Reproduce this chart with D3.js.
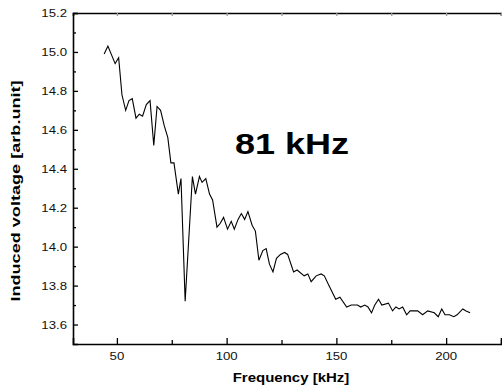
<!DOCTYPE html>
<html>
<head>
<meta charset="utf-8">
<script src="https://cdn.jsdelivr.net/npm/d3@7"></script>
<style>
  body { margin: 0; background: #fff; }
  text { font-family: "Liberation Sans", Arial, sans-serif; }
</style>
</head>
<body>
<svg id="canvas"></svg>
<script>
// data
const freq = [44.2, 45.9, 49.2, 50.8, 52.3, 54.0, 55.5, 57.0, 58.7, 60.2, 61.7, 63.4, 65.1, 66.8, 68.3, 69.9,
  71.6, 73.2, 74.6, 76.0, 78.0, 79.2, 81.1, 84.4, 85.8, 87.6, 88.8, 90.5, 92.2, 93.6, 95.6, 97.1, 98.6,
  100.4, 102.1, 103.5, 105.2, 106.7, 108.2, 109.7, 111.6, 113.1, 114.7, 116.5, 118.0, 119.5, 121.1, 122.7,
  124.5, 126.4, 127.8, 130.5, 132.1, 135.3, 137.0, 138.5, 140.8, 143.0, 144.5, 146.6, 149.7, 151.6, 154.7,
  156.8, 159.6, 161.1, 162.9, 164.4, 166.0, 167.5, 169.2, 170.7, 173.7, 175.6, 177.1, 178.6, 180.2, 182.0,
  183.6, 187.0, 189.3, 191.6, 194.6, 196.4, 198.0, 199.5, 201.5, 203.5, 205.0, 207.6, 209.1, 210.9]
const voltage = [14.99, 15.03, 14.94, 14.97, 14.78, 14.70, 14.75, 14.76, 14.66, 14.68, 14.67, 14.73, 14.75, 14.52, 14.72, 14.70,
  14.62, 14.56, 14.43, 14.43, 14.27, 14.35, 13.72, 14.36, 14.27, 14.36, 14.33, 14.35, 14.27, 14.24, 14.10, 14.12, 14.15,
  14.09, 14.13, 14.09, 14.14, 14.17, 14.14, 14.18, 14.11, 14.08, 13.93, 13.98, 13.99, 13.91, 13.87, 13.94,
  13.96, 13.97, 13.96, 13.87, 13.88, 13.85, 13.86, 13.82, 13.85, 13.86, 13.85, 13.80, 13.73, 13.74, 13.69,
  13.70, 13.70, 13.69, 13.70, 13.69, 13.66, 13.70, 13.73, 13.70, 13.71, 13.67, 13.69, 13.68, 13.69, 13.65,
  13.67, 13.67, 13.65, 13.67, 13.66, 13.64, 13.68, 13.65, 13.65, 13.64, 13.65, 13.68, 13.67, 13.66]
const xTicks = [50, 100, 150, 200]
const yTicks = [13.6, 13.8, 14.0, 14.2, 14.4, 14.6, 14.8, 15.0, 15.2]

const width = 502
const height = 388
const margin = { top: 13, right: 1, bottom: 44, left: 73 }
const sx = 1.2   // picture looks stretched sideways

let canvas = d3.select("#canvas")
  .attr('width', width)
  .attr('height', height)

let xScale = d3.scaleLinear().domain([30, 225]).range([margin.left, width - margin.right])
let yScale = d3.scaleLinear().domain([13.5, 15.2]).range([height - margin.bottom, margin.top])

// stretch = horizontal scale of the glyphs (along the text)
let addText = (g, x, y, str, size, anchor, bold, rot, stretch) => {
  g.append('text')
    .attr('transform', `translate(${x},${y}) rotate(${rot || 0}) scale(${stretch || sx},1)`)
    .attr('text-anchor', anchor)
    .attr('font-size', size)
    .attr('font-weight', bold ? 'bold' : 'normal')
    .text(str)
}

// axes, ticks pointing inward
let bottomAxis = canvas.append('g')
  .attr('transform', `translate(0, ${height - margin.bottom})`)
  .call(d3.axisBottom(xScale).tickValues(d3.range(50, 226, 25)).tickSize(-6).tickFormat(''))
bottomAxis.selectAll('.tick line').filter(d => d % 50 != 0).attr('y2', -4)

let topAxis = canvas.append('g')
  .attr('transform', `translate(0, ${margin.top})`)
  .call(d3.axisTop(xScale).tickValues(d3.range(50, 226, 25)).tickSize(-3).tickFormat(''))
topAxis.selectAll('.tick line').attr('stroke', '#999')

let leftAxis = canvas.append('g')
  .attr('transform', `translate(${margin.left}, 0)`)
  .call(d3.axisLeft(yScale).tickValues(d3.range(13.6, 15.21, 0.1)).tickSize(-5).tickFormat(''))
leftAxis.selectAll('.tick line').filter((d, i) => i % 2 == 1).attr('x2', 3)

canvas.selectAll('.domain').attr('stroke-width', 1.6)
canvas.selectAll('.tick line').attr('stroke-width', 1.3)

// tick labels
let labels = canvas.append('g').attr('fill', '#111')
xTicks.forEach(t => addText(labels, xScale(t), 360, t, 11, 'middle'))
yTicks.forEach(t => addText(labels, 67, yScale(t) + 4, t.toFixed(1), 11, 'end'))

// titles
addText(canvas, 291, 382, 'Frequency [kHz]', 12.5, 'middle', true)
addText(canvas, 20, 191, 'Induced voltage [arb.unit]', 12.5, 'middle', true, -90, 1.45)
addText(canvas, 292, 154, '81 kHz', 30, 'middle', true)

// the curve
let line = d3.line()
  .x(d => xScale(d[0]))
  .y(d => yScale(d[1]))

canvas.append('path')
  .datum(d3.zip(freq, voltage))
  .attr('d', line)
  .attr('fill', 'none')
  .attr('stroke', '#000')
  .attr('stroke-width', 1.1)
</script>
</body>
</html>
